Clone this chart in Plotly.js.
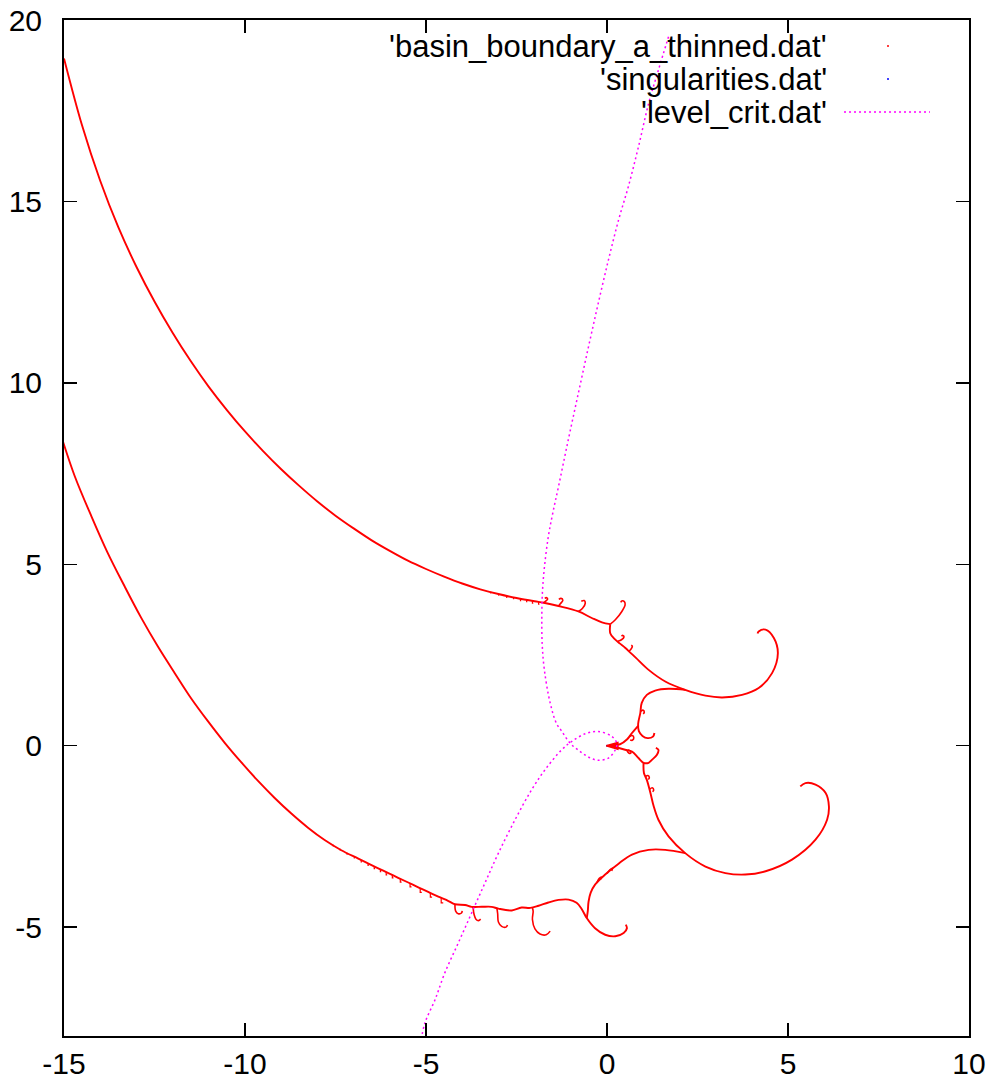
<!DOCTYPE html>
<html><head><meta charset="utf-8">
<script src="https://cdn.plot.ly/plotly-3.0.1.min.js"></script>
<style>body{margin:0;background:#fff}#chart{width:997px;height:1085px}</style>
</head><body><div id="chart"></div>
<script>
// ---------- basin boundary: main branches ----------
var upperArcX = [-15.0,-14.5,-14.0,-13.5,-13.0,-12.5,-12.0,-11.5,-11.0,-10.5,-10.0,-9.5,-9.0,-8.5,-8.0,-7.5,-7.0,-6.5,-6.0,-5.5,-5.0,-4.5,-4.0,-3.5,-3.0,-2.5,-2.0,-1.75,-1.34,-0.79,-0.42,-0.14,0.09];
var upperArcY = [18.94,17.09,15.57,14.29,13.20,12.24,11.38,10.60,9.89,9.25,8.66,8.12,7.62,7.16,6.73,6.34,5.99,5.66,5.37,5.10,4.87,4.66,4.47,4.31,4.18,4.07,3.98,3.94,3.85,3.70,3.52,3.40,3.35];

var upperDescentX = [0.09,0.09,0.20,0.35,0.50,0.65,0.80,1.15,1.61,2.16,2.72,3.18,3.73,4.19,4.56,4.72,4.61,4.38,4.19,4.16];
var upperDescentY = [3.35,3.10,2.95,2.82,2.70,2.56,2.42,2.09,1.77,1.54,1.38,1.33,1.40,1.59,2.00,2.55,2.97,3.20,3.15,3.09];

var troughBranchX = [2.16,1.70,1.33,1.10,0.96,0.92,0.86,0.88,0.98,1.12,1.27,1.31];
var troughBranchY = [1.54,1.57,1.52,1.40,1.18,0.90,0.60,0.40,0.27,0.21,0.25,0.35];

var wedgeLinkX = [0.86,0.69,0.55,0.36,0.28];
var wedgeLinkY = [0.55,0.35,0.17,0.04,0.03];

var wedgeX = [-0.02,0.30,0.30,-0.02];
var wedgeY = [0.00,0.09,-0.10,0.00];

var centerLowX = [0.28,0.50,0.69,0.87,1.01,1.15,1.24,1.38,1.42,1.35];
var centerLowY = [-0.05,-0.11,-0.16,-0.34,-0.47,-0.47,-0.39,-0.25,-0.11,-0.06];

var lowerDescentX = [1.01,1.02,1.10,1.20,1.29,1.42,1.70,2.16,2.72,3.27,3.82,4.38,5.11,5.76,6.08,6.13,6.04,5.76,5.48,5.34];
var lowerDescentY = [-0.47,-0.75,-0.94,-1.30,-1.67,-2.04,-2.50,-2.96,-3.33,-3.51,-3.55,-3.46,-3.14,-2.59,-2.04,-1.67,-1.30,-1.07,-1.03,-1.12];

var lowerRightX = [-0.56,-0.53,-0.51,-0.45,-0.33,-0.05,0.32,0.69,1.15,1.61,2.16];
var lowerRightY = [-4.75,-4.55,-4.30,-4.05,-3.83,-3.55,-3.25,-3.00,-2.87,-2.87,-2.96];

var lowerArcX = [-15.05,-14.7,-14.25,-13.8,-13.33,-12.87,-12.41,-11.94,-11.49,-11.02,-10.56,-10.1,-9.64,-9.18,-8.72,-8.26,-7.8,-7.34,-6.87,-6.59,-6.32,-6.04,-5.77,-5.49,-5.2,-4.94,-4.66,-4.38,-4.2,-3.92,-3.74,-3.46,-3.19,-3.0,-2.63,-2.36,-2.12,-1.89,-1.62,-1.34,-1.06,-0.84,-0.70,-0.56,-0.33,-0.05,0.23,0.46,0.55,0.52];
var lowerArcY = [8.45,7.42,6.34,5.33,4.40,3.53,2.74,2.00,1.31,0.67,0.08,-0.46,-0.97,-1.44,-1.87,-2.26,-2.60,-2.88,-3.11,-3.25,-3.38,-3.51,-3.64,-3.77,-3.91,-4.03,-4.16,-4.28,-4.37,-4.39,-4.44,-4.44,-4.44,-4.49,-4.54,-4.46,-4.47,-4.41,-4.32,-4.25,-4.24,-4.33,-4.50,-4.75,-5.03,-5.21,-5.25,-5.16,-5.03,-4.93];

// ---------- basin boundary: curls / hooks ----------
var hook1X = [-1.75,-1.71,-1.64,-1.67,-1.72], hook1Y = [3.94,3.97,4.04,4.08,4.06];
var hook2X = [-1.34,-1.29,-1.22,-1.27,-1.33], hook2Y = [3.85,3.91,4.01,4.06,4.03];
var hook3X = [-0.79,-0.68,-0.60,-0.63,-0.71], hook3Y = [3.70,3.78,3.93,4.00,3.98];
var hook4X = [0.09,0.23,0.41,0.50,0.48,0.41,0.38], hook4Y = [3.35,3.47,3.70,3.88,3.97,3.99,3.95];
var hook5X = [0.30,0.40,0.47,0.44,0.40], hook5Y = [2.88,2.92,3.00,3.04,3.02];
var hook6X = [0.60,0.66,0.70,0.67], hook6Y = [2.60,2.66,2.74,2.77];
var hook7X = [1.06,1.13,1.17,1.14], hook7Y = [-0.85,-0.82,-0.88,-0.93];
var hook8X = [1.18,1.25,1.29,1.26], hook8Y = [-1.20,-1.16,-1.22,-1.27];
var hook9X = [-0.28,-0.22,-0.15,-0.18], hook9Y = [-3.78,-3.66,-3.62,-3.68];
var hook10X = [0.00,0.08,0.15,0.13], hook10Y = [-3.52,-3.42,-3.38,-3.45];
var hook11X = [0.93,1.00,1.03,1.00], hook11Y = [0.95,0.98,0.92,0.88];
var hook12X = [0.62,0.70,0.74,0.70,0.64], hook12Y = [0.25,0.28,0.22,0.15,0.16];
var hook13X = [0.55,0.60,0.66,0.64,0.58], hook13Y = [-0.13,-0.20,-0.20,-0.14,-0.12];
var hookLAX = [-4.20,-4.18,-4.11,-4.02,-4.00], hookLAY = [-4.37,-4.56,-4.63,-4.61,-4.55];
var hookLBX = [-3.70,-3.67,-3.62,-3.55,-3.49], hookLBY = [-4.44,-4.66,-4.78,-4.82,-4.78];
var hookLCX = [-3.04,-3.02,-3.00,-2.91,-2.79,-2.75], hookLCY = [-4.48,-4.63,-4.86,-4.98,-5.00,-4.94];
var hookLDX = [-2.06,-2.04,-2.06,-1.99,-1.85,-1.68,-1.57], hookLDY = [-4.47,-4.56,-4.79,-5.05,-5.19,-5.21,-5.11];

// small teeth hanging below the two arcs
var lowerToothX = [-7.56,-7.37,-7.18,-6.98,-6.79,-6.60,-6.43,-6.26,-6.10,-5.93,-5.71,-5.44,-5.16,-4.88,-4.58];
var lowerToothY = [-2.73,-2.84,-2.95,-3.05,-3.15,-3.25,-3.33,-3.41,-3.49,-3.56,-3.67,-3.79,-3.93,-4.05,-4.19];
var lowerToothDepth = [0.03,0.03,0.04,0.04,0.05,0.05,0.06,0.06,0.07,0.08,0.09,0.10,0.11,0.12,0.14];
var upperToothX = [-3.21,-2.99,-2.77,-2.58,-2.39,-2.22,-2.06,-1.89];
var upperToothY = [4.24,4.18,4.13,4.09,4.05,4.02,3.99,3.96];
var upperToothDepth = [0.03,0.03,0.04,0.04,0.05,0.05,0.06,0.06];

// ---------- singularities ----------
var singX = [0.0];
var singY = [0.0];

// ---------- level_crit ----------
var levelX = [1.70,1.42,1.15,0.87,0.59,0.32,0.04,-0.24,-0.51,-0.79,-1.07,-1.34,-1.50,-1.62,-1.72,-1.78,-1.80,-1.79,-1.73,-1.57,-1.39,-1.25,-1.02,-0.74,-0.46,-0.24,0.04,0.23,0.27,0.13,-0.24,-0.60,-0.97,-1.25,-1.71,-2.08,-2.54,-3.00,-3.37,-3.74,-4.11,-4.48,-4.75,-5.03,-5.15];
var levelY = [19.54,18.62,17.70,16.51,15.41,14.49,13.39,12.20,11.00,9.72,8.43,7.14,6.40,5.77,5.00,4.30,3.60,2.80,2.09,1.18,0.60,0.40,0.07,-0.16,-0.34,-0.40,-0.34,-0.11,0.07,0.26,0.39,0.33,0.12,-0.11,-0.66,-1.21,-2.04,-2.96,-3.78,-4.61,-5.44,-6.26,-7.00,-7.64,-8.20];

// ---------- axes ----------
var xTickVals = [-15,-10,-5,0,5,10];
var xTickText = ['-15','-10','-5','0','5','10'];
var yTickVals = [-5,0,5,10,15,20];
var yTickText = ['-5','0','5','10','15','20'];

var legendLabels = ["'basin_boundary_a_thinned.dat'", "'singularities.dat'", "'level_crit.dat'"];

// ---------- build ----------
function joinSegs(segs){
  var X=[],Y=[];
  segs.forEach(function(s,i){ if(i){X.push(null);Y.push(null);} X=X.concat(s[0]); Y=Y.concat(s[1]); });
  return [X,Y];
}
var mainSegs = joinSegs([
  [upperArcX,upperArcY],[upperDescentX,upperDescentY],[troughBranchX,troughBranchY],
  [wedgeLinkX,wedgeLinkY],[centerLowX,centerLowY],[lowerDescentX,lowerDescentY],
  [lowerRightX,lowerRightY],[lowerArcX,lowerArcY]
]);
var hookSegs = joinSegs([
  [hook1X,hook1Y],[hook2X,hook2Y],[hook3X,hook3Y],[hook4X,hook4Y],[hook5X,hook5Y],[hook6X,hook6Y],
  [hook7X,hook7Y],[hook8X,hook8Y],[hook9X,hook9Y],[hook10X,hook10Y],[hook11X,hook11Y],[hook12X,hook12Y],
  [hook13X,hook13Y],[hookLAX,hookLAY],[hookLBX,hookLBY],[hookLCX,hookLCY],[hookLDX,hookLDY]
]);
var teethSegs = [];
lowerToothX.forEach(function(x,i){ var y=lowerToothY[i], d=lowerToothDepth[i]; teethSegs.push([[x,x,x+0.4*d],[y,y-d,y-d]]); });
upperToothX.forEach(function(x,i){ var y=upperToothY[i], d=upperToothDepth[i]; teethSegs.push([[x,x,x+0.4*d],[y,y-d,y-d]]); });
var teeth = joinSegs(teethSegs);

var RED = '#ff0000';
var traces = [
  {x:singX, y:singY, mode:'markers', marker:{color:'#0000ff', size:2}, hoverinfo:'skip', showlegend:false},
  {x:mainSegs[0], y:mainSegs[1], mode:'lines', line:{color:RED, width:1.9, shape:'spline', smoothing:1}, connectgaps:false, hoverinfo:'skip', showlegend:false},
  {x:hookSegs[0], y:hookSegs[1], mode:'lines', line:{color:RED, width:1.6, shape:'spline', smoothing:1}, connectgaps:false, hoverinfo:'skip', showlegend:false},
  {x:teeth[0], y:teeth[1], mode:'lines', line:{color:RED, width:1.2}, connectgaps:false, hoverinfo:'skip', showlegend:false},
  {x:wedgeX, y:wedgeY, mode:'lines', fill:'toself', fillcolor:RED, line:{color:RED, width:1.5}, hoverinfo:'skip', showlegend:false},
  {x:levelX, y:levelY, mode:'lines', line:{color:'#ff00ff', width:1.5, dash:'2px,3px', shape:'spline', smoothing:1}, hoverinfo:'skip', showlegend:false}
];

var FONT = 'Liberation Sans, Arial, Helvetica, sans-serif';
var axisCommon = {
  showgrid:false, zeroline:false, showline:true, mirror:'ticks', linecolor:'#000', linewidth:2,
  ticks:'inside', ticklen:13, tickwidth:1.5, tickcolor:'#000',
  tickfont:{family:FONT, size:30, color:'#000'}, fixedrange:true
};
var xa = Object.assign({}, axisCommon, {range:[-15,10], tickmode:'array', tickvals:xTickVals, ticktext:xTickText, ticklabelstandoff:0});
var ya = Object.assign({}, axisCommon, {range:[-8,20], tickmode:'array', tickvals:yTickVals, ticktext:yTickText, ticklabelstandoff:14});

var legX = 0.8453, legRows = [0.9744, 0.9419, 0.9094];
var annotations = legendLabels.map(function(t,i){
  return {text:t, xref:'paper', yref:'paper', x:legX, y:legRows[i], xanchor:'right', yanchor:'middle', showarrow:false, font:{family:FONT, size:31, color:'#000'}};
});
var shapes = [
  {type:'circle', xref:'paper', yref:'paper', xsizemode:'pixel', ysizemode:'pixel', xanchor:0.9105, yanchor:legRows[0], x0:-1, x1:1, y0:-1, y1:1, fillcolor:RED, line:{width:0}},
  {type:'circle', xref:'paper', yref:'paper', xsizemode:'pixel', ysizemode:'pixel', xanchor:0.9105, yanchor:legRows[1], x0:-1, x1:1, y0:-1, y1:1, fillcolor:'#0000ff', line:{width:0}},
  {type:'line', xref:'paper', yref:'paper', x0:0.8619, x1:0.9569, y0:legRows[2], y1:legRows[2], line:{color:'#ff00ff', width:1.5, dash:'2px,3px'}}
];

var layout = {
  width:997, height:1085, paper_bgcolor:'#fff', plot_bgcolor:'#fff',
  margin:{l:64, r:28, t:20, b:49, pad:0},
  xaxis:xa, yaxis:ya, showlegend:false,
  annotations:annotations, shapes:shapes,
  font:{family:FONT}
};
Plotly.newPlot('chart', traces, layout, {staticPlot:true, displayModeBar:false});
</script></body></html>
